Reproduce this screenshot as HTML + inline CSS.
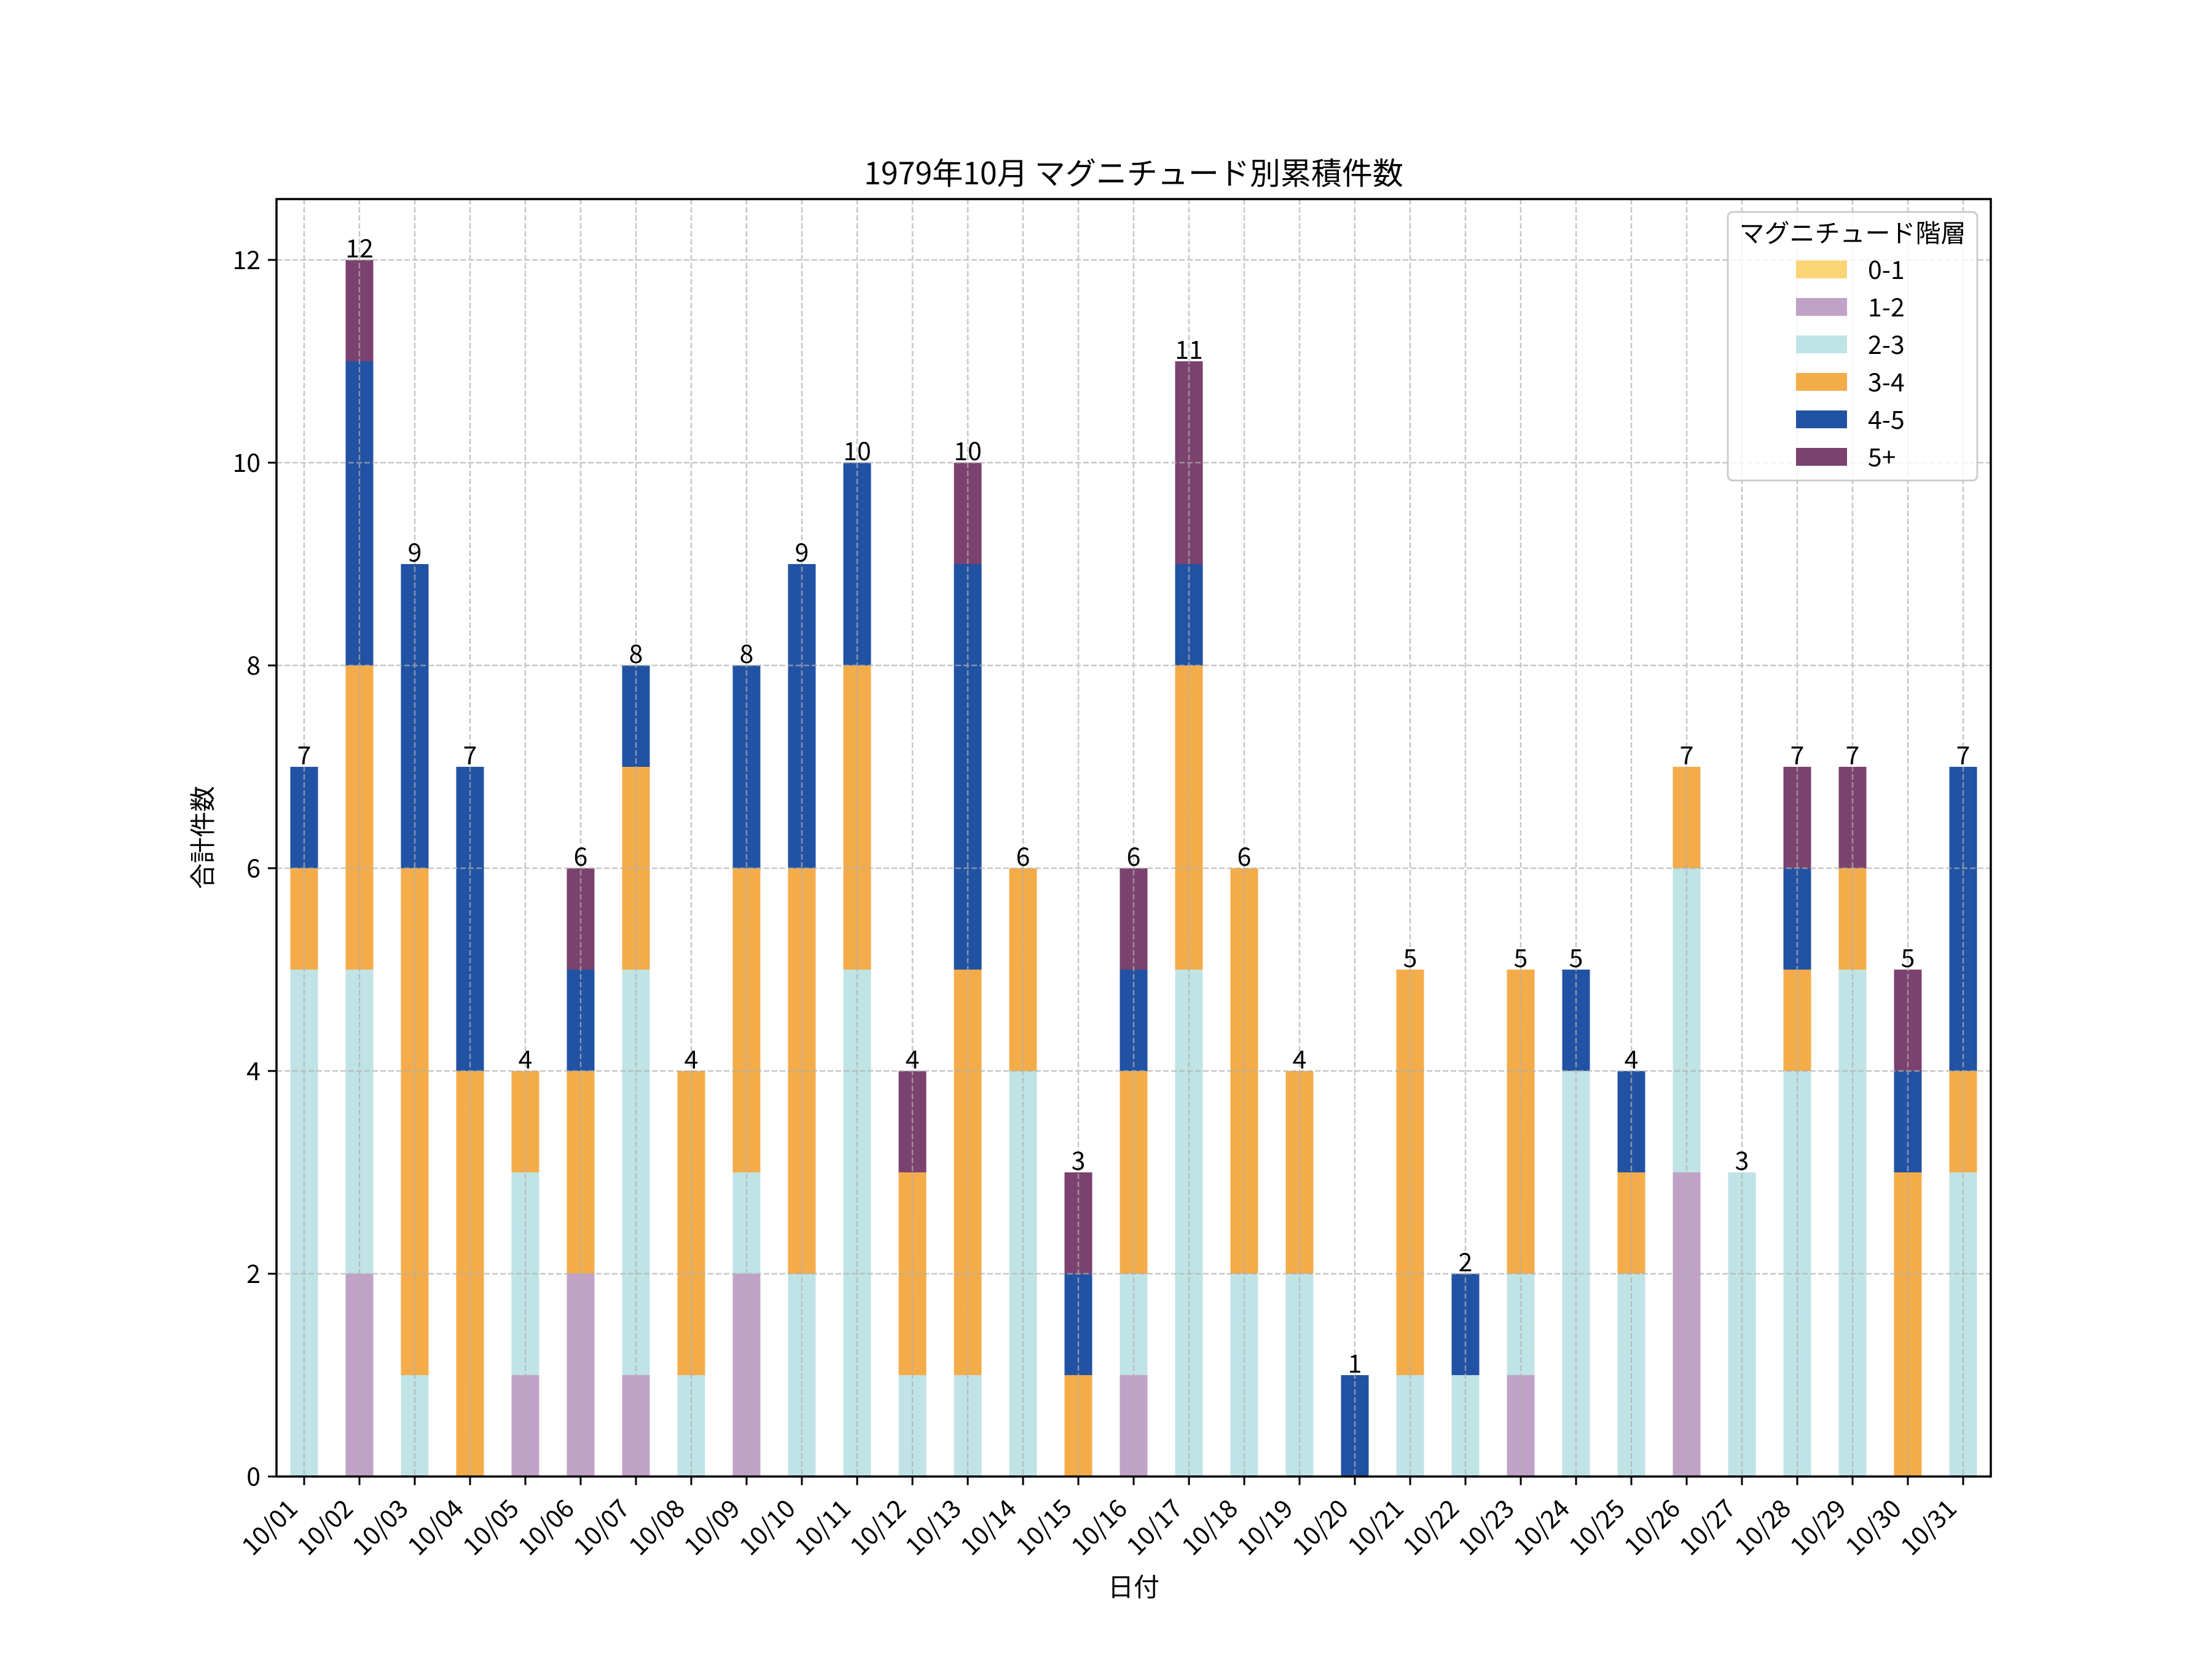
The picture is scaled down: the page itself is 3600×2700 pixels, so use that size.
<!DOCTYPE html>
<html><head><meta charset="utf-8">
<style>html,body{margin:0;padding:0;background:#fff}svg{display:block}
text{font-family:"Noto Sans CJK JP","Liberation Sans",sans-serif;fill:#000}</style></head>
<body>
<svg id="s" width="3600" height="2700" viewBox="0 0 3600 2700" xmlns="http://www.w3.org/2000/svg">
<rect width="3600" height="2700" fill="#fff"/>
<g id="bars"></g>
<g id="grid" stroke="#b0b0b0" stroke-width="2.5" stroke-dasharray="9,4" opacity="0.7"></g>
<g id="lbl"></g>
<rect x="450" y="324" width="2790" height="2079" fill="none" stroke="#000" stroke-width="3.5"/>
<text x="1845" y="300" font-size="50" text-anchor="middle">1979年10月 マグニチュード別累積件数</text>
<text x="1845" y="2598" font-size="42" text-anchor="middle">日付</text>
<text transform="translate(345,1363) rotate(-90)" font-size="42" text-anchor="middle">合計件数</text>
<g id="leg"></g>
</svg>
<script>
var NS="http://www.w3.org/2000/svg";
function el(p,t,a,txt){var e=document.createElementNS(NS,t);for(var k in a)e.setAttribute(k,a[k]);if(txt!=null)e.textContent=txt;p.appendChild(e);return e;}
var cols=["#fbd476","#c0a2c7","#c0e3e6","#f4ac4a","#2152a3","#7b416f"];
var D=[[0,0,5,1,1,0],[0,2,3,3,3,1],[0,0,1,5,3,0],[0,0,0,4,3,0],[0,1,2,1,0,0],[0,2,0,2,1,1],[0,1,4,2,1,0],[0,0,1,3,0,0],[0,2,1,3,2,0],[0,0,2,4,3,0],[0,0,5,3,2,0],[0,0,1,2,0,1],[0,0,1,4,4,1],[0,0,4,2,0,0],[0,0,0,1,1,1],[0,1,1,2,1,1],[0,0,5,3,1,2],[0,0,2,4,0,0],[0,0,2,2,0,0],[0,0,0,0,1,0],[0,0,1,4,0,0],[0,0,1,0,1,0],[0,1,1,3,0,0],[0,0,4,0,1,0],[0,0,2,1,1,0],[0,3,3,1,0,0],[0,0,3,0,0,0],[0,0,4,1,1,1],[0,0,5,1,0,1],[0,0,0,3,1,1],[0,0,3,1,3,0]];
var B=document.getElementById("bars"),G=document.getElementById("grid"),L=document.getElementById("lbl");
var y0=2403,u=2079/12.6;
for(var i=0;i<31;i++){var x=495+90*i,c=0;
 for(var j=0;j<6;j++){var v=D[i][j];if(v>0){el(B,"rect",{x:x-22.5,y:y0-(c+v)*u,width:45,height:v*u,fill:cols[j]});c+=v;}}
 el(G,"line",{x1:x,y1:324,x2:x,y2:2403});
 el(L,"line",{x1:x,y1:2403,x2:x,y2:2417,stroke:"#000","stroke-width":3});
 el(L,"text",{x:x,y:y0-c*u-4,"font-size":41,"text-anchor":"middle"},String(c));
 var d="10/"+(i<9?"0":"")+(i+1);
 el(L,"text",{transform:"translate("+(x-8)+",2458) rotate(-45)","font-size":41,"text-anchor":"end"},d);
}
for(var k=0;k<=12;k+=2){var y=y0-k*u;
 if(k>0)el(G,"line",{x1:450,y1:y,x2:3240,y2:y});
 el(L,"line",{x1:436,y1:y,x2:450,y2:y,stroke:"#000","stroke-width":3});
 el(L,"text",{x:424,y:y+15,"font-size":41,"text-anchor":"end"},String(k));}
var Lg=document.getElementById("leg");
el(Lg,"rect",{x:2812,y:345,width:406,height:437,rx:8,fill:"#fff","fill-opacity":0.8,stroke:"#cccccc","stroke-width":3});
el(Lg,"text",{x:3015,y:394,"font-size":41,"text-anchor":"middle"},"マグニチュード階層");
var nm=["0-1","1-2","2-3","3-4","4-5","5+"];
for(var j=0;j<6;j++){var cy=439+61*j;
 el(Lg,"rect",{x:2923,y:cy-15,width:83,height:29,fill:cols[j]});
 el(Lg,"text",{x:3040,y:cy+15,"font-size":41},nm[j]);}
</script>
</body></html>
